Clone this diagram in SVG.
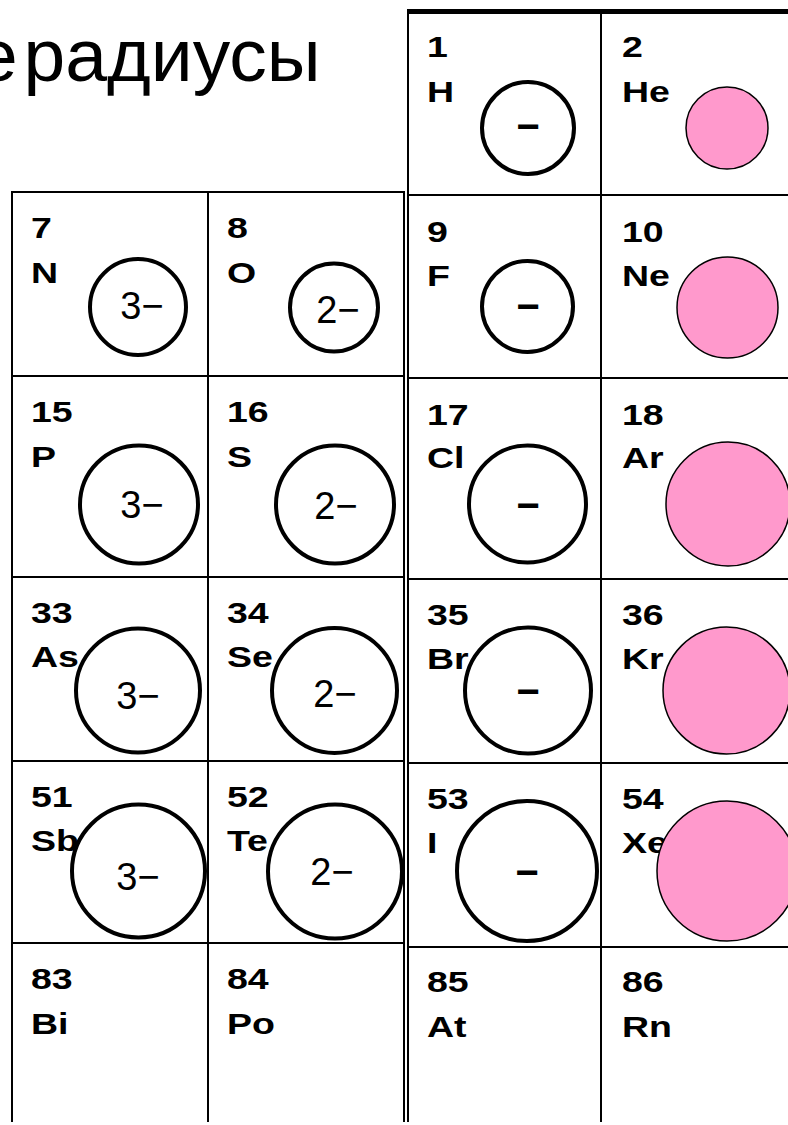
<svg xmlns="http://www.w3.org/2000/svg" width="788" height="1125" viewBox="0 0 788 1125">
<style>
.bg{fill:#fff}
.grid line{stroke:#000;stroke-width:2}
.lbl{font-family:"Liberation Sans",Arial,sans-serif;font-weight:bold;font-size:30px;fill:#000}
.chg{font-family:"Liberation Sans",Arial,sans-serif;font-size:38px;text-anchor:middle;fill:#000}
.neg{font-family:"Liberation Sans",Arial,sans-serif;font-weight:bold;font-size:40px;text-anchor:middle;fill:#000}
.ion{fill:none;stroke:#000;stroke-width:4}
.noble{fill:#FF99CC;stroke:#000;stroke-width:1.5}
.title{font-family:"Liberation Sans",Arial,sans-serif;font-size:75px;fill:#000}
</style>
<rect class="bg" x="0" y="0" width="788" height="1125"/>
<text class="title" x="-24" y="81">е<tspan dx="-15"> радиусы</tspan></text>
<g id="grid" class="grid">
  <line x1="12" y1="191" x2="12" y2="1122"/>
  <line x1="208" y1="191" x2="208" y2="1122"/>
  <line x1="404" y1="191" x2="404" y2="1122"/>
  <line x1="11" y1="192" x2="405" y2="192"/>
  <line x1="11" y1="376" x2="405" y2="376"/>
  <line x1="11" y1="577" x2="405" y2="577"/>
  <line x1="11" y1="761" x2="405" y2="761"/>
  <line x1="11" y1="943" x2="405" y2="943"/>
  <line x1="408" y1="10" x2="408" y2="1122"/>
  <line x1="601" y1="10" x2="601" y2="1122"/>
  <line x1="407" y1="11.5" x2="788" y2="11.5" style="stroke-width:5"/>
  <line x1="407" y1="195" x2="788" y2="195"/>
  <line x1="407" y1="378" x2="788" y2="378"/>
  <line x1="407" y1="579" x2="788" y2="579"/>
  <line x1="407" y1="763" x2="788" y2="763"/>
  <line x1="407" y1="947" x2="788" y2="947"/>
</g>

<g id="cell-H">
  <text class="lbl" transform="translate(427,57) scale(1.25,1)">1</text>
  <text class="lbl" transform="translate(427,102) scale(1.25,1)">H</text>
  <circle class="ion" cx="528" cy="128" r="46"/>
  <text class="neg" x="528" y="140">−</text>
</g>
<g id="cell-He">
  <text class="lbl" transform="translate(622,57) scale(1.25,1)">2</text>
  <text class="lbl" transform="translate(622,102) scale(1.25,1)">He</text>
  <circle class="noble" cx="727" cy="128" r="41"/>
</g>

<g id="cell-N">
  <text class="lbl" transform="translate(31,238) scale(1.25,1)">7</text>
  <text class="lbl" transform="translate(31,283) scale(1.25,1)">N</text>
  <circle class="ion" cx="138" cy="307" r="48"/>
  <text class="chg" x="142" y="319">3−</text>
</g>
<g id="cell-O">
  <text class="lbl" transform="translate(227,238) scale(1.25,1)">8</text>
  <text class="lbl" transform="translate(227,283) scale(1.25,1)">O</text>
  <circle class="ion" cx="334" cy="307.5" r="44"/>
  <text class="chg" x="338" y="323">2−</text>
</g>
<g id="cell-F">
  <text class="lbl" transform="translate(427,242) scale(1.25,1)">9</text>
  <text class="lbl" transform="translate(427,286) scale(1.25,1)">F</text>
  <circle class="ion" cx="527.5" cy="306.5" r="45.5"/>
  <text class="neg" x="528" y="320">−</text>
</g>
<g id="cell-Ne">
  <text class="lbl" transform="translate(622,242) scale(1.25,1)">10</text>
  <text class="lbl" transform="translate(622,286) scale(1.25,1)">Ne</text>
  <circle class="noble" cx="727.5" cy="307.5" r="50.5"/>
</g>

<g id="cell-P">
  <text class="lbl" transform="translate(31,422) scale(1.25,1)">15</text>
  <text class="lbl" transform="translate(31,467) scale(1.25,1)">P</text>
  <circle class="ion" cx="139" cy="504.5" r="59"/>
  <text class="chg" x="142" y="518">3−</text>
</g>
<g id="cell-S">
  <text class="lbl" transform="translate(227,422) scale(1.25,1)">16</text>
  <text class="lbl" transform="translate(227,467) scale(1.25,1)">S</text>
  <circle class="ion" cx="335" cy="504.5" r="59"/>
  <text class="chg" x="336" y="519">2−</text>
</g>
<g id="cell-Cl">
  <text class="lbl" transform="translate(427,425) scale(1.25,1)">17</text>
  <text class="lbl" transform="translate(427,468) scale(1.25,1)">Cl</text>
  <circle class="ion" cx="527.5" cy="504" r="58.5"/>
  <text class="neg" x="528" y="519">−</text>
</g>
<g id="cell-Ar">
  <text class="lbl" transform="translate(622,425) scale(1.25,1)">18</text>
  <text class="lbl" transform="translate(622,468) scale(1.25,1)">Ar</text>
  <circle class="noble" cx="728" cy="504" r="62"/>
</g>

<g id="cell-As">
  <text class="lbl" transform="translate(31,623) scale(1.25,1)">33</text>
  <text class="lbl" transform="translate(31,667) scale(1.25,1)">As</text>
  <circle class="ion" cx="138" cy="690.5" r="62"/>
  <text class="chg" x="138" y="709">3−</text>
</g>
<g id="cell-Se">
  <text class="lbl" transform="translate(227,623) scale(1.25,1)">34</text>
  <text class="lbl" transform="translate(227,667) scale(1.25,1)">Se</text>
  <circle class="ion" cx="334.5" cy="690.5" r="62.5"/>
  <text class="chg" x="335" y="707">2−</text>
</g>
<g id="cell-Br">
  <text class="lbl" transform="translate(427,625) scale(1.25,1)">35</text>
  <text class="lbl" transform="translate(427,669) scale(1.25,1)">Br</text>
  <circle class="ion" cx="528" cy="690.5" r="63"/>
  <text class="neg" x="528" y="705">−</text>
</g>
<g id="cell-Kr">
  <text class="lbl" transform="translate(622,625) scale(1.25,1)">36</text>
  <text class="lbl" transform="translate(622,669) scale(1.25,1)">Kr</text>
  <circle class="noble" cx="726.5" cy="690.5" r="63.5"/>
</g>

<g id="cell-Sb">
  <text class="lbl" transform="translate(31,807) scale(1.25,1)">51</text>
  <text class="lbl" transform="translate(31,851) scale(1.25,1)">Sb</text>
  <circle class="ion" cx="138.5" cy="871" r="66.5"/>
  <text class="chg" x="138" y="890">3−</text>
</g>
<g id="cell-Te">
  <text class="lbl" transform="translate(227,807) scale(1.25,1)">52</text>
  <text class="lbl" transform="translate(227,851) scale(1.25,1)">Te</text>
  <circle class="ion" cx="335" cy="871.5" r="67"/>
  <text class="chg" x="332" y="885">2−</text>
</g>
<g id="cell-I">
  <text class="lbl" transform="translate(427,809) scale(1.25,1)">53</text>
  <text class="lbl" transform="translate(427,853) scale(1.25,1)">I</text>
  <circle class="ion" cx="527" cy="871" r="70"/>
  <text class="neg" x="527" y="886">−</text>
</g>
<g id="cell-Xe">
  <text class="lbl" transform="translate(622,809) scale(1.25,1)">54</text>
  <text class="lbl" transform="translate(622,853) scale(1.25,1)">Xe</text>
  <circle class="noble" cx="727" cy="871" r="70"/>
</g>

<g id="cell-Bi">
  <text class="lbl" transform="translate(31,989) scale(1.25,1)">83</text>
  <text class="lbl" transform="translate(31,1034) scale(1.25,1)">Bi</text>
</g>
<g id="cell-Po">
  <text class="lbl" transform="translate(227,989) scale(1.25,1)">84</text>
  <text class="lbl" transform="translate(227,1034) scale(1.25,1)">Po</text>
</g>
<g id="cell-At">
  <text class="lbl" transform="translate(427,992) scale(1.25,1)">85</text>
  <text class="lbl" transform="translate(427,1037) scale(1.25,1)">At</text>
</g>
<g id="cell-Rn">
  <text class="lbl" transform="translate(622,992) scale(1.25,1)">86</text>
  <text class="lbl" transform="translate(622,1037) scale(1.25,1)">Rn</text>
</g>
</svg>
